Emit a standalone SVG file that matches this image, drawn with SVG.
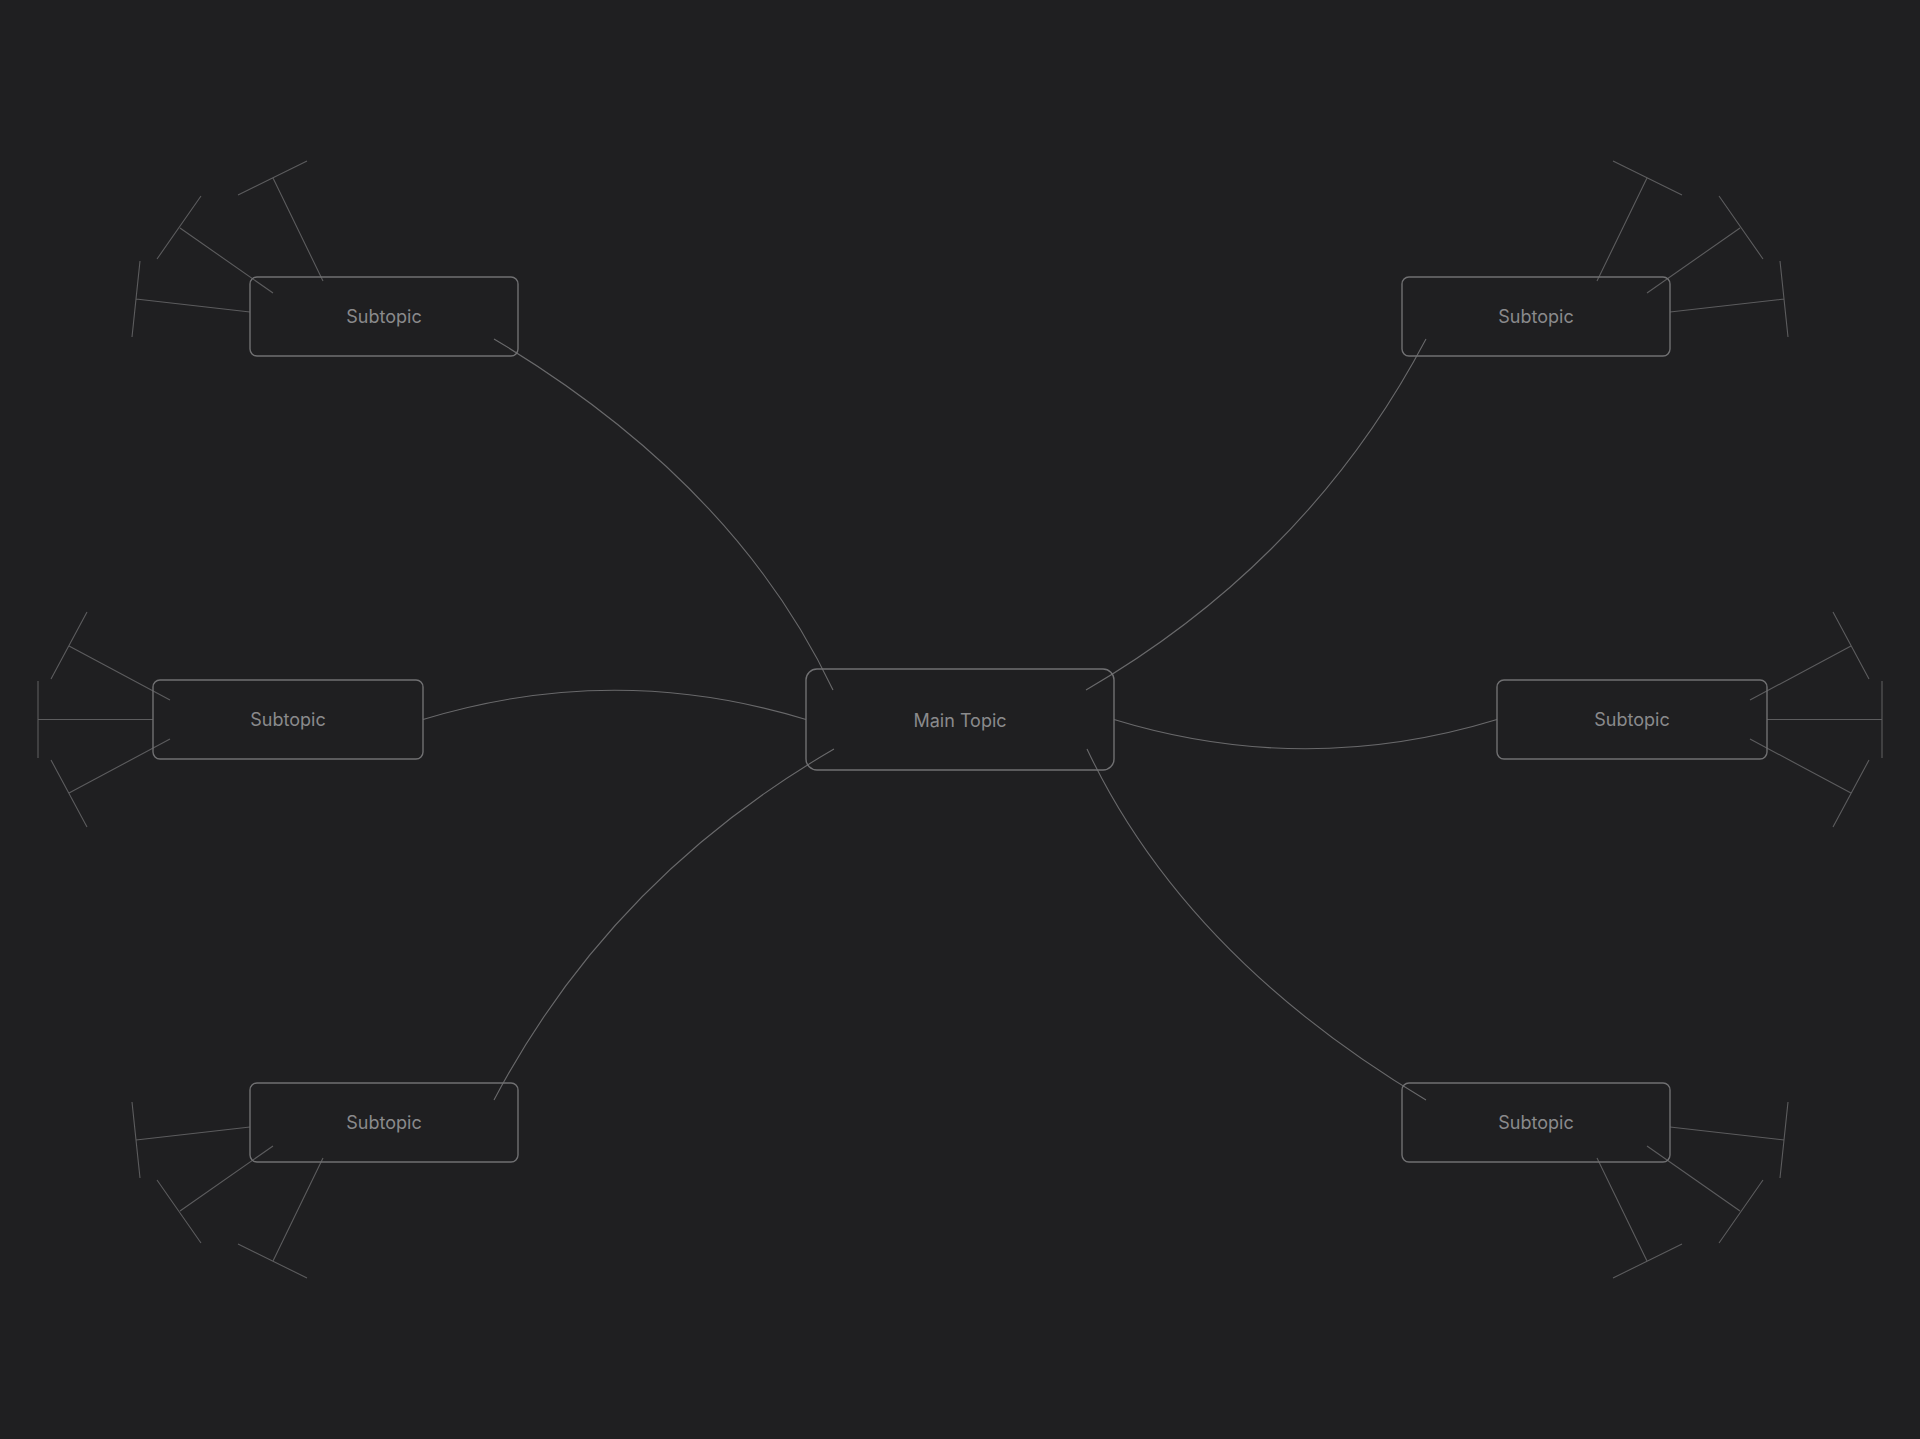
<svg xmlns="http://www.w3.org/2000/svg" width="1920" height="1439" viewBox="0 0 1920 1439">
<style>
.bg{fill:#1f1f21}
.box{fill:none;stroke:#707072;stroke-width:1.4}
.conn{fill:none;stroke:#69696b;stroke-width:1.1}
.leaf{fill:none;stroke:#5c5c5e;stroke-width:1.1}
.lbl{font-family:Inter,"Noto Sans","Liberation Sans",sans-serif;font-size:18px;fill:#8a8a8c;text-anchor:middle}
</style>
<rect class="bg" x="0" y="0" width="1920" height="1439"/>
<g id="connectors">
<path class="conn" d="M494,339 Q735,483 833,690"/>
<path class="conn" d="M1426,1100 Q1185,956 1087,749"/>
<path class="conn" d="M1086,690 Q1309.5,560 1426,339"/>
<path class="conn" d="M834,749 Q610.5,879 494,1100"/>
<path class="conn" d="M423,719.5 Q614.5,661 806,719.5"/>
<path class="conn" d="M1114,719.5 Q1305.5,778 1497,719.5"/>
</g>
<g id="main-topic">
<rect class="box" x="806" y="669" width="308" height="101" rx="11"/>
<text class="lbl" x="960" y="726.5">Main Topic</text>
</g>
<g id="subtopic-top-left">
<path class="leaf" d="M323,281 L273,178 M238,195 L307,161 M273,293 L180,228 M157,259 L201,196 M250,312 L136,299 M140,261 L132,337"/>
<rect class="box" x="250" y="277" width="268" height="79" rx="7"/>
<text class="lbl" x="384" y="323">Subtopic</text>
</g>
<g id="subtopic-top-right">
<path class="leaf" d="M1597,281 L1647,178 M1682,195 L1613,161 M1647,293 L1740,228 M1763,259 L1719,196 M1670,312 L1784,299 M1780,261 L1788,337"/>
<rect class="box" x="1402" y="277" width="268" height="79" rx="7"/>
<text class="lbl" x="1536" y="323">Subtopic</text>
</g>
<g id="subtopic-left">
<path class="leaf" d="M170,700 L69,646 M51,679 L87,612 M153,719.5 L38,719.5 M38,681 L38,758 M170,739 L69,793 M51,760 L87,827"/>
<rect class="box" x="153" y="680" width="270" height="79" rx="7"/>
<text class="lbl" x="288" y="726">Subtopic</text>
</g>
<g id="subtopic-right">
<path class="leaf" d="M1750,700 L1851,646 M1869,679 L1833,612 M1767,719.5 L1882,719.5 M1882,681 L1882,758 M1750,739 L1851,793 M1869,760 L1833,827"/>
<rect class="box" x="1497" y="680" width="270" height="79" rx="7"/>
<text class="lbl" x="1632" y="726">Subtopic</text>
</g>
<g id="subtopic-bottom-left">
<path class="leaf" d="M323,1158 L273,1261 M238,1244 L307,1278 M273,1146 L180,1211 M157,1180 L201,1243 M250,1127 L136,1140 M140,1178 L132,1102"/>
<rect class="box" x="250" y="1083" width="268" height="79" rx="7"/>
<text class="lbl" x="384" y="1129">Subtopic</text>
</g>
<g id="subtopic-bottom-right">
<path class="leaf" d="M1597,1158 L1647,1261 M1682,1244 L1613,1278 M1647,1146 L1740,1211 M1763,1180 L1719,1243 M1670,1127 L1784,1140 M1780,1178 L1788,1102"/>
<rect class="box" x="1402" y="1083" width="268" height="79" rx="7"/>
<text class="lbl" x="1536" y="1129">Subtopic</text>
</g>
</svg>
